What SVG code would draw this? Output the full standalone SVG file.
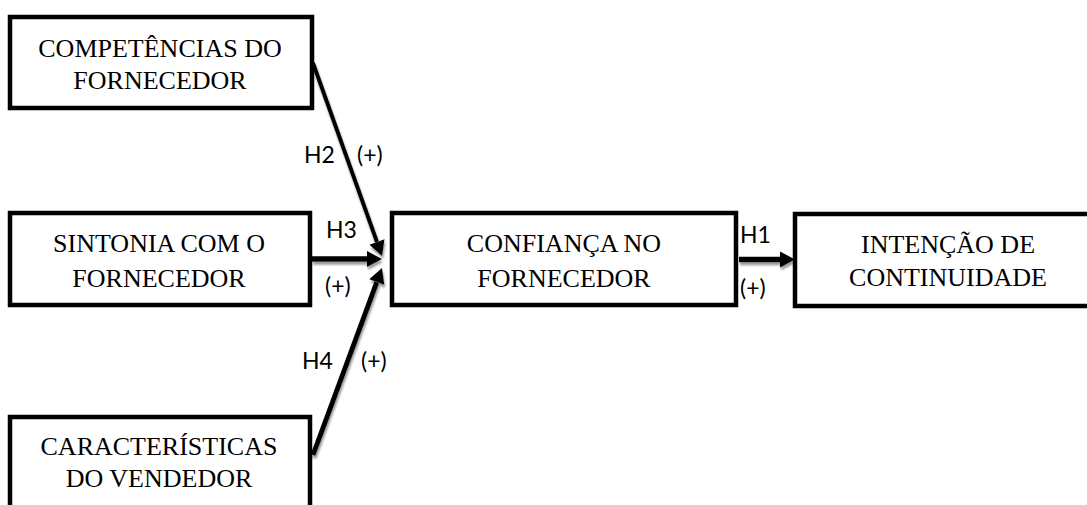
<svg xmlns="http://www.w3.org/2000/svg" width="1087" height="505" viewBox="0 0 1087 505">
<style>
.box{fill:#fff;stroke:#000;stroke-width:4.5}
.t{font-family:"Liberation Serif","Times New Roman",serif;font-size:26px;fill:#000;text-anchor:middle}
.lb{font-family:Lato,"Open Sans",sans-serif;font-size:23px;fill:#000}
.c{stroke:#000;fill:none;stroke-linecap:butt}
</style>
<defs>
<marker id="ah" markerUnits="userSpaceOnUse" markerWidth="16" markerHeight="18" refX="0" refY="8" orient="auto" overflow="visible">
<path d="M0,0 L15,8 L0,16 Z" fill="#000"/>
</marker>
<filter id="sh" x="-20%" y="-20%" width="140%" height="140%">
<feDropShadow dx="1" dy="3" stdDeviation="0.8" flood-color="#808080" flood-opacity="0.8"/>
</filter>
</defs>
<rect width="1087" height="505" fill="#fff"/>
<g id="connectors" filter="url(#sh)">
<line class="c" x1="313" y1="63" x2="377" y2="242" stroke-width="4" marker-end="url(#ah)"/>
<line class="c" x1="312" y1="259" x2="367" y2="259" stroke-width="5.5" marker-end="url(#ah)"/>
<line class="c" x1="313" y1="455" x2="376.8" y2="282.1" stroke-width="5" marker-end="url(#ah)"/>
<line class="c" x1="739" y1="259.5" x2="780" y2="259.5" stroke-width="5.5" marker-end="url(#ah)"/>
</g>
<g id="n-competencias">
<rect class="box" x="10" y="17" width="302" height="91"/>
<text class="t" x="160" y="57">COMPETÊNCIAS DO</text>
<text class="t" x="160" y="89">FORNECEDOR</text>
</g>
<g id="n-sintonia">
<rect class="box" x="10" y="213" width="300" height="92"/>
<text class="t" x="159" y="252">SINTONIA COM O</text>
<text class="t" x="159" y="287">FORNECEDOR</text>
</g>
<g id="n-caracteristicas">
<rect class="box" x="10" y="417" width="300" height="100"/>
<text class="t" x="159" y="455">CARACTERÍSTICAS</text>
<text class="t" x="159" y="487">DO VENDEDOR</text>
</g>
<g id="n-confianca">
<rect class="box" x="392" y="213" width="344" height="92"/>
<text class="t" x="564" y="252">CONFIANÇA NO</text>
<text class="t" x="564" y="287">FORNECEDOR</text>
</g>
<g id="n-intencao">
<rect class="box" x="795" y="214" width="310" height="92"/>
<text class="t" x="948" y="253">INTENÇÃO DE</text>
<text class="t" x="948" y="286">CONTINUIDADE</text>
</g>
<g id="labels">
<text class="lb" x="304" y="163">H2</text>
<text class="lb" x="357" y="163">(+)</text>
<text class="lb" x="326" y="238">H3</text>
<text class="lb" x="325" y="294">(+)</text>
<text class="lb" x="740" y="243">H1</text>
<text class="lb" x="740" y="296">(+)</text>
<text class="lb" x="302" y="369">H4</text>
<text class="lb" x="361" y="369">(+)</text>
</g>
</svg>
